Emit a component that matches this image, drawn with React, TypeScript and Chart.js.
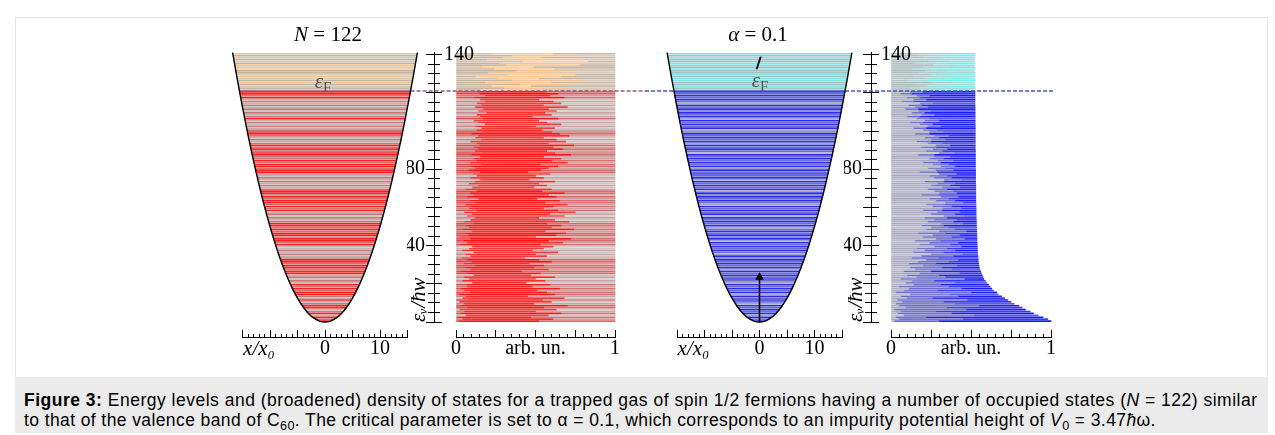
import React, { useEffect, useRef } from "react";
import { Chart, registerables } from "chart.js";

Chart.register(...registerables);

// ======================= DATA =======================
// single-particle energy levels (units of hbar*omega)
const LEVELS = [
  0.5, 1.5, 2.5, 3.5, 4.5, 5.5, 6.5, 7.5, 8.5, 9.5,
  10.5, 11.5, 12.5, 13.5, 14.5, 15.5, 16.5, 17.5, 18.5, 19.5,
  20.5, 21.5, 22.5, 23.5, 24.5, 25.5, 26.5, 27.5, 28.5, 29.5,
  30.5, 31.5, 32.5, 33.5, 34.5, 35.5, 36.5, 37.5, 38.5, 39.5,
  40.5, 41.5, 42.5, 43.5, 44.5, 45.5, 46.5, 47.5, 48.5, 49.5,
  50.5, 51.5, 52.5, 53.5, 54.5, 55.5, 56.5, 57.5, 58.5, 59.5,
  60.5, 61.5, 62.5, 63.5, 64.5, 65.5, 66.5, 67.5, 68.5, 69.5,
  70.5, 71.5, 72.5, 73.5, 74.5, 75.5, 76.5, 77.5, 78.5, 79.5,
  80.5, 81.5, 82.5, 83.5, 84.5, 85.5, 86.5, 87.5, 88.5, 89.5,
  90.5, 91.5, 92.5, 93.5, 94.5, 95.5, 96.5, 97.5, 98.5, 99.5,
  100.5, 101.5, 102.5, 103.5, 104.5, 105.5, 106.5, 107.5, 108.5, 109.5,
  110.5, 111.5, 112.5, 113.5, 114.5, 115.5, 116.5, 117.5, 118.5, 119.5,
  120.5,
  121.5, 122.5, 123.5, 124.5, 125.5, 126.5, 127.5, 128.5, 129.5, 130.5,
  131.5, 132.5, 133.5, 134.5, 135.5, 136.5, 137.5, 138.5, 139.5, 140.5,
];
const FERMI_E = 121;

// trapping potential (x / x0 , energy)
const POT_X = [-16.8, -16, -15, -14, -13, -12, -11, -10, -9, -8, -7, -6, -5, -4, -3, -2, -1, 0,
  1, 2, 3, 4, 5, 6, 7, 8, 9, 10, 11, 12, 13, 14, 15, 16, 16.8];
const POT_E = [141.1, 128, 112.5, 98, 84.5, 72, 60.5, 50, 40.5, 32, 24.5, 18, 12.5, 8, 4.5, 2, 0.5, 0,
  0.5, 2, 4.5, 8, 12.5, 18, 24.5, 32, 40.5, 50, 60.5, 72, 84.5, 98, 112.5, 128, 141.1];

// impurity arrow
const ARROW_X = [0, 0];
const ARROW_E = [0, 23.5];

// Fermi level marks (x / x0 units)
const FERMI_L_SOLID = [-15.56, 15.56];
const FERMI_L_DASH = [15.56, 58.3];
const FERMI_R_DASH_A = [-20.8, -15.56];
const FERMI_R_SOLID = [-15.56, 15.56];
const FERMI_R_DASH_B = [15.56, 53.7];

// level colour classes
const LEFT_CODES =
  "rprgrpgrrp" + "grgprrprpr" + "gpgpgrrprr" + "prrpgpgpgg" + "rprrprrprp" +
  "rrpgpgpgrp" + "rprrprprrp" + "gpgpgpgprr" + "prrprpprrp" + "rprpgpgprr" +
  "pgpgpgrpgp" + "gpgpgpgrpr" + "r" + "otwtotwowt" + "towotwtotw";
const RIGHT_CODES =
  "bsbhbsbsbh" + "sbsbhbsbsb" + "hsbsbsbhbs" + "bsbsbhsbsb" + "sbhbsbsbsh" +
  "bsbsbhbsbs" + "bhsbsbsbhb" + "sbsbhbsbsb" + "hbsbsbsbhs" + "bsbhbsbsbs" +
  "hbsbsbhbsb" + "sbsbhsbsbs" + "b" + "ckckkcckck" + "kckcckkckc";

// broadened DOS, left panel: start / end of the saturated part of each row
const DOS_L_A = [
  0.02, 0.04, 0.01, 0.06, 0.03, 0.05, 0.02, 0.07, 0.03, 0.05,
  0.02, 0.08, 0.04, 0.06, 0.02, 0.09, 0.05, 0.03, 0.07, 0.06,
  0.10, 0.04, 0.08, 0.05, 0.11, 0.07, 0.03, 0.09, 0.06, 0.12,
  0.05, 0.10, 0.07, 0.04, 0.09, 0.06, 0.11, 0.04, 0.08, 0.10,
  0.03, 0.07, 0.05, 0.09, 0.02, 0.08, 0.06, 0.10, 0.04, 0.08,
  0.06, 0.11, 0.05, 0.09, 0.12, 0.07, 0.10, 0.05, 0.13, 0.08,
  0.10, 0.06, 0.12, 0.09, 0.14, 0.07, 0.11, 0.09, 0.13, 0.06,
  0.10, 0.14, 0.08, 0.12, 0.15, 0.09, 0.13, 0.11, 0.15, 0.08,
  0.12, 0.10, 0.16, 0.09, 0.13, 0.11, 0.15, 0.10, 0.17, 0.12,
  0.14, 0.11, 0.15, 0.13, 0.09, 0.16, 0.12, 0.14, 0.10, 0.17,
  0.13, 0.16, 0.12, 0.18, 0.14, 0.11, 0.17, 0.15, 0.13, 0.19,
  0.14, 0.17, 0.12, 0.16, 0.13, 0.18, 0.15, 0.12, 0.18, 0.15,
  0.14,
  0.15, 0.30, 0.22, 0.40, 0.18, 0.35, 0.26, 0.12, 0.33, 0.20,
  0.38, 0.24, 0.16, 0.31, 0.27, 0.42, 0.19, 0.29, 0.35, 0.22,
];
const DOS_L_B = [
  0.52, 0.61, 0.47, 0.58, 0.66, 0.50, 0.63, 0.55, 0.70, 0.49,
  0.60, 0.54, 0.68, 0.45, 0.62, 0.57, 0.51, 0.65, 0.48, 0.59,
  0.44, 0.56, 0.50, 0.62, 0.47, 0.53, 0.41, 0.58, 0.49, 0.55,
  0.46, 0.60, 0.52, 0.43, 0.57, 0.50, 0.64, 0.48, 0.55, 0.61,
  0.53, 0.67, 0.58, 0.72, 0.50, 0.63, 0.69, 0.56, 0.74, 0.60,
  0.66, 0.57, 0.71, 0.62, 0.52, 0.68, 0.59, 0.75, 0.64, 0.55,
  0.61, 0.70, 0.56, 0.65, 0.51, 0.63, 0.58, 0.68, 0.54, 0.60,
  0.49, 0.57, 0.52, 0.62, 0.46, 0.55, 0.50, 0.59, 0.45, 0.53,
  0.58, 0.64, 0.53, 0.70, 0.60, 0.66, 0.55, 0.72, 0.62, 0.57,
  0.67, 0.61, 0.74, 0.58, 0.69, 0.63, 0.55, 0.71, 0.65, 0.60,
  0.54, 0.62, 0.50, 0.66, 0.57, 0.52, 0.64, 0.48, 0.60, 0.56,
  0.63, 0.58, 0.70, 0.55, 0.66, 0.61, 0.52, 0.68, 0.59, 0.64,
  0.57,
  0.55, 0.68, 0.47, 0.72, 0.60, 0.80, 0.52, 0.66, 0.75, 0.58,
  0.70, 0.62, 0.49, 0.78, 0.57, 0.83, 0.64, 0.54, 0.76, 0.61,
];

// broadened DOS, right panel: grey part end, slate part end, row length
const DOS_R_G1 = [
  0.02, 0.05, 0.03, 0.08, 0.04, 0.06, 0.02, 0.09, 0.05, 0.03,
  0.07, 0.04, 0.10, 0.06, 0.12, 0.03, 0.08, 0.11, 0.05, 0.14,
  0.09, 0.13, 0.06, 0.16, 0.10, 0.18, 0.08, 0.15, 0.12, 0.20,
  0.11, 0.17, 0.22, 0.13, 0.19, 0.25, 0.14, 0.21, 0.16, 0.27,
  0.18, 0.24, 0.15, 0.28, 0.20, 0.26, 0.17, 0.30, 0.22, 0.25,
  0.19, 0.31, 0.23, 0.27, 0.21, 0.33, 0.25, 0.29, 0.20, 0.32,
  0.26, 0.22, 0.34, 0.28, 0.24, 0.31, 0.19, 0.30, 0.27, 0.23,
  0.32, 0.25, 0.29, 0.21, 0.33, 0.27, 0.24, 0.30, 0.18, 0.28,
  0.23, 0.31, 0.26, 0.20, 0.29, 0.24, 0.27, 0.17, 0.30, 0.22,
  0.26, 0.19, 0.28, 0.23, 0.16, 0.25, 0.21, 0.27, 0.15, 0.24,
  0.20, 0.14, 0.23, 0.18, 0.12, 0.21, 0.16, 0.10, 0.19, 0.13,
  0.17, 0.09, 0.15, 0.11, 0.18, 0.07, 0.14, 0.10, 0.16, 0.06,
  0.12,
  0.18, 0.12, 0.22, 0.15, 0.25, 0.10, 0.20, 0.14, 0.24, 0.17,
  0.21, 0.13, 0.19, 0.26, 0.15, 0.23, 0.11, 0.20, 0.16, 0.22,
];
const DOS_R_G2 = [
  0.30, 0.45, 0.22, 0.52, 0.38, 0.28, 0.47, 0.35, 0.55, 0.40,
  0.33, 0.48, 0.26, 0.42, 0.37, 0.50, 0.29, 0.44, 0.36, 0.31,
  0.40, 0.27, 0.46, 0.34, 0.30, 0.43, 0.25, 0.38, 0.32, 0.41,
  0.28, 0.36, 0.42, 0.30, 0.39, 0.45, 0.33, 0.40, 0.35, 0.44,
  0.37, 0.42, 0.31, 0.46, 0.38, 0.43, 0.34, 0.47, 0.40, 0.36,
  0.33, 0.45, 0.39, 0.41, 0.35, 0.46, 0.40, 0.43, 0.32, 0.44,
  0.38, 0.34, 0.45, 0.40, 0.36, 0.42, 0.30, 0.41, 0.39, 0.35,
  0.43, 0.37, 0.40, 0.33, 0.44, 0.38, 0.35, 0.41, 0.29, 0.39,
  0.34, 0.40, 0.36, 0.31, 0.39, 0.33, 0.37, 0.27, 0.40, 0.32,
  0.35, 0.28, 0.37, 0.32, 0.25, 0.34, 0.30, 0.36, 0.24, 0.33,
  0.29, 0.22, 0.31, 0.26, 0.20, 0.30, 0.24, 0.18, 0.27, 0.21,
  0.25, 0.17, 0.23, 0.19, 0.26, 0.14, 0.22, 0.18, 0.24, 0.13,
  0.20,
  0.30, 0.24, 0.35, 0.27, 0.38, 0.22, 0.33, 0.26, 0.37, 0.29,
  0.34, 0.25, 0.31, 0.39, 0.28, 0.36, 0.23, 0.32, 0.29, 0.35,
];
const DOS_R_L = [
  1.00, 0.98, 0.95, 0.92, 0.89, 0.87, 0.84, 0.82, 0.80, 0.77,
  0.75, 0.73, 0.71, 0.69, 0.67, 0.66, 0.64, 0.63, 0.62, 0.61,
  0.60, 0.59, 0.58, 0.575, 0.57, 0.565, 0.56, 0.555, 0.552, 0.55,
  0.548, 0.546, 0.545, 0.544, 0.543, 0.542, 0.541, 0.54, 0.54, 0.539,
  0.539, 0.538, 0.538, 0.537, 0.537, 0.536, 0.536, 0.535, 0.535, 0.535,
  0.534, 0.534, 0.534, 0.533, 0.533, 0.533, 0.532, 0.532, 0.532, 0.532,
  0.531, 0.531, 0.531, 0.53, 0.53, 0.53, 0.53, 0.53, 0.53, 0.53,
  0.53, 0.53, 0.529, 0.529, 0.529, 0.529, 0.529, 0.529, 0.529, 0.529,
  0.528, 0.528, 0.528, 0.528, 0.528, 0.528, 0.528, 0.528, 0.528, 0.528,
  0.527, 0.527, 0.527, 0.527, 0.527, 0.527, 0.527, 0.527, 0.527, 0.527,
  0.527, 0.527, 0.527, 0.526, 0.526, 0.526, 0.526, 0.526, 0.526, 0.526,
  0.526, 0.526, 0.526, 0.525, 0.525, 0.525, 0.525, 0.525, 0.525, 0.525,
  0.525,
  0.524, 0.527, 0.522, 0.526, 0.523, 0.527, 0.521, 0.525, 0.524, 0.526,
  0.522, 0.527, 0.524, 0.521, 0.526, 0.523, 0.525, 0.522, 0.527, 0.524,
];

// tick labels
const X_LABEL_VALUES = [-12, 0, 10];
const X_LABEL_TEXT = ["x/x\u2080", "0", "10"];
const DOS_LABEL_VALUES = [0, 0.5, 1];
const DOS_LABEL_TEXT = ["0", "arb. un.", "1"];
const Y_LEFT_LABELS = [40, 80];
const Y_RIGHT_LABELS = [140];
const Y_TITLE = "\u03b5\u1d65/\u0127w";

// ======================= STYLE / LAYOUT =======================
const W = 1275, H = 376;
const Y_TOP = 52, Y_BOT = 322, E_TOP = 141.4, AXIS_E = -7.86;
const SERIF = "'Liberation Serif','DejaVu Serif',serif";
const BAR_T = 1.0;

const AREA = {
  p1: { l: 242.5, r: 407.5 }, d1: { l: 456, r: 615 },
  p2: { l: 677, r: 842 }, d2: { l: 891, r: 1051 },
  y1min: { l: 428, r: 440 }, y1maj: { l: 426, r: 442 },
  y2min: { l: 865, r: 877 }, y2maj: { l: 863, r: 879 },
};

const PAL_L = { r: "#ff1f1f", p: "#c47878", g: "#c2b3b3", o: "#f4c48a", t: "#c3b5a2", w: "#d6cabb" };
const PAL_R = { b: "#2a2af0", s: "#6e6ec8", h: "#a4a4c4", c: "#7ee6e6", k: "#a3c3c3" };
const DL1 = { r: "#e04848", p: "#c98080", g: "#c9b9b9", o: "#cbb59b", t: "#c6b6a2", w: "#d2c4b2" };
const DL2 = { r: "#ff1212", p: "#ff2a2a", g: "#f23a3a", o: "#ffc98c", t: "#f3c496", w: "#ffd09a" };
const DL3 = { r: "#d86c6c", p: "#c9a3a3", g: "#cfc6c6", o: "#c8b8a4", t: "#d9cbb8", w: "#c4b8aa" };
const DR1 = { b: "#b1b1c8", s: "#a9a9c0", h: "#bdbdcb", c: "#b4c3c3", k: "#aebfbf" };
const DR2 = { b: "#6a6ad4", s: "#7474c8", h: "#8080c4", c: "#a0dcdc", k: "#b3cccc" };
const DR3 = { b: "#1a1aff", s: "#3a3af0", h: "#5c5ce0", c: "#78f0f0", k: "#a4dada" };

const turn = (e: number) => Math.sqrt(2 * e); // classical turning point of V = x^2/2

function baseOptions(area: any, scales: any, padL = 0, padR = 0, indexY = true) {
  return {
    responsive: false,
    animation: false,
    devicePixelRatio: 1,
    events: [],
    indexAxis: indexY ? "y" : "x",
    layout: { padding: { left: area.l - padL, right: W - area.r - padR, top: Y_TOP, bottom: H - Y_BOT } },
    plugins: { legend: { display: false }, tooltip: { enabled: false }, title: { display: false } },
    scales,
  };
}

const hiddenY = () => ({
  type: "linear", display: false, min: 0, max: E_TOP, bounds: "data", offset: false, grid: { offset: false },
});

function labelFrom(values: number[], texts: string[]) {
  return (v: number) => {
    for (let i = 0; i < values.length; i++) if (Math.abs(v - values[i]) < 1e-9) return texts[i];
    return "";
  };
}

function bottomAxes(min: number, max: number, minor: number, major: number, label: any, italicAt: number | null) {
  return {
    x: {
      type: "linear", axis: "x", min, max, bounds: "data", offset: false, position: { y: AXIS_E },
      border: { display: true, color: "#000", width: 1 },
      grid: { offset: false, drawOnChartArea: false, drawTicks: true, tickLength: -4, color: "#000", lineWidth: 1 },
      ticks: {
        stepSize: minor, autoSkip: false, maxRotation: 0, minRotation: 0, padding: 3.5, color: "#000",
        font: (ctx: any) => {
          const it = italicAt !== null && ctx.tick && Math.abs(ctx.tick.value - italicAt) < 1e-9;
          return { family: SERIF, size: it ? 21 : 20, style: it ? "italic" : "normal" };
        },
        callback: (v: number) => label(v),
      },
    },
    xMaj: {
      type: "linear", axis: "x", min, max, bounds: "data", offset: false, position: { y: AXIS_E },
      border: { display: false },
      grid: { offset: false, drawOnChartArea: false, drawTicks: true, tickLength: -7, color: "#000", lineWidth: 1 },
      ticks: { stepSize: major, display: false, autoSkip: false },
    },
    y: hiddenY(),
  };
}

function lineDs(xs: number[], es: number[], color: string, width: number, dash: number[] = [], extra: any = {}) {
  return {
    type: "line", indexAxis: "y", xAxisID: "x", yAxisID: "y",
    data: xs.map((x, i) => ({ x, y: es[i] })),
    borderColor: color, borderWidth: width, borderDash: dash,
    pointRadius: 0, fill: false, clip: false, tension: 0, ...extra,
  };
}

function levelBars(codes: string, pal: any) {
  return {
    type: "bar", indexAxis: "y", xAxisID: "x", yAxisID: "y", grouped: false, clip: false,
    barThickness: BAR_T, borderWidth: 0,
    data: LEVELS.map((e) => ({ x: [-turn(e), turn(e)], y: e })),
    backgroundColor: LEVELS.map((_, i) => pal[codes[i]]),
  };
}

function segBars(from: number[] | number, to: number[] | number, codes: string, pal: any) {
  const val = (a: any, i: number) => (Array.isArray(a) ? a[i] : a);
  return {
    type: "bar", indexAxis: "y", xAxisID: "x", yAxisID: "y", grouped: false, clip: false,
    barThickness: BAR_T, borderWidth: 0,
    data: LEVELS.map((e, i) => ({ x: [val(from, i), val(to, i)], y: e })),
    backgroundColor: LEVELS.map((_, i) => pal[codes[i]]),
  };
}

function p1Config() {
  return {
    type: "bar",
    data: {
      datasets: [
        lineDs(POT_X, POT_E, "#000", 1.4, [], { tension: 0.25 }),
        lineDs(FERMI_L_DASH, [FERMI_E, FERMI_E], "#8c5a8a", 1.4, [4, 2]),
        lineDs(FERMI_L_SOLID, [FERMI_E, FERMI_E], "#8c5a8a", 1.4),
        levelBars(LEFT_CODES, PAL_L),
      ],
    },
    options: baseOptions(AREA.p1, bottomAxes(-15, 15, 1, 5, labelFrom(X_LABEL_VALUES, X_LABEL_TEXT), -12)),
  };
}

function p2Config() {
  return {
    type: "bar",
    data: {
      datasets: [
        lineDs(POT_X, POT_E, "#000", 1.4, [], { tension: 0.25 }),
        lineDs(ARROW_X, ARROW_E, "#000", 1.6, [], {
          pointRadius: [0, 5], pointStyle: "triangle", pointBackgroundColor: "#000", pointBorderColor: "#000", pointBorderWidth: 0,
        }),
        lineDs(FERMI_R_DASH_A, [FERMI_E, FERMI_E], "#3f5bb0", 1.4, [4, 2]),
        lineDs(FERMI_R_DASH_B, [FERMI_E, FERMI_E], "#3f5bb0", 1.4, [4, 2]),
        lineDs(FERMI_R_SOLID, [FERMI_E, FERMI_E], "#4a58b0", 1.4),
        levelBars(RIGHT_CODES, PAL_R),
      ],
    },
    options: baseOptions(AREA.p2, bottomAxes(-15, 15, 1, 5, labelFrom(X_LABEL_VALUES, X_LABEL_TEXT), -12)),
  };
}

function d1Config() {
  return {
    type: "bar",
    data: {
      datasets: [
        segBars(0, DOS_L_A, LEFT_CODES, DL1),
        segBars(DOS_L_A, DOS_L_B, LEFT_CODES, DL2),
        segBars(DOS_L_B, 1, LEFT_CODES, DL3),
      ],
    },
    options: baseOptions(AREA.d1, bottomAxes(0, 1, 0.05, 0.25, labelFrom(DOS_LABEL_VALUES, DOS_LABEL_TEXT), null)),
  };
}

function d2Config() {
  return {
    type: "bar",
    data: {
      datasets: [
        segBars(0, DOS_R_G1, RIGHT_CODES, DR1),
        segBars(DOS_R_G1, DOS_R_G2, RIGHT_CODES, DR2),
        segBars(DOS_R_G2, DOS_R_L, RIGHT_CODES, DR3),
      ],
    },
    options: baseOptions(AREA.d2, bottomAxes(0, 1, 0.05, 0.25, labelFrom(DOS_LABEL_VALUES, DOS_LABEL_TEXT), null)),
  };
}

const keepMultiples = (step: number) => (s: any) => {
  s.ticks = s.ticks.filter((t: any) => Math.abs(t.value / step - Math.round(t.value / step)) < 1e-6);
};

function yMinorConfig(area: any) {
  const AW = 21;
  return {
    type: "scatter",
    data: { datasets: [] },
    options: baseOptions(area, {
      x: {
        type: "linear", axis: "x", min: -1, max: 1, bounds: "data", offset: false, position: { y: 0 },
        border: { display: false },
        grid: { drawOnChartArea: true, drawTicks: false, color: "#000", lineWidth: 1 },
        ticks: { display: false },
        afterBuildTicks: (s: any) => { s.ticks = [{ value: 0 }]; },
      },
      y: {
        type: "linear", position: "left", min: 0, max: E_TOP, bounds: "data", offset: false,
        border: { display: false },
        grid: { drawOnChartArea: true, drawTicks: false, color: "#000", lineWidth: 1 },
        ticks: {
          stepSize: 5, includeBounds: false, autoSkip: false, padding: 3, color: "#000",
          font: { family: SERIF, size: 20 },
          callback: (v: number) => (Y_LEFT_LABELS.indexOf(v) >= 0 ? String(v) : ""),
        },
        title: { display: true, text: Y_TITLE, align: "start", padding: 0, color: "#000", font: { family: SERIF, size: 21, style: "italic" } },
        afterBuildTicks: keepMultiples(5),
        afterFit: (s: any) => { s.width = AW; },
      },
    }, AW, 0, false),
  };
}

function yMajorConfig(area: any) {
  const AW = 34;
  return {
    type: "scatter",
    data: { datasets: [] },
    options: baseOptions(area, {
      x: { type: "linear", display: false, min: -1, max: 1 },
      y: {
        type: "linear", position: "right", min: 0, max: E_TOP, bounds: "data", offset: false,
        border: { display: false },
        grid: { drawOnChartArea: true, drawTicks: false, color: "#000", lineWidth: 1 },
        ticks: {
          stepSize: 20, includeBounds: false, autoSkip: false, padding: 2, color: "#000",
          font: { family: SERIF, size: 20 },
          callback: (v: number) => (Y_RIGHT_LABELS.indexOf(v) >= 0 ? String(v) : ""),
        },
        afterBuildTicks: keepMultiples(20),
        afterFit: (s: any) => { s.width = AW; },
      },
    }, 0, AW, false),
  };
}

const txt: any = {
  position: "absolute", transform: "translate(-50%,-50%)", fontFamily: SERIF, fontSize: 21,
  whiteSpace: "nowrap", lineHeight: 1, color: "#000",
};
const subS: any = { fontSize: "0.72em", lineHeight: 0, verticalAlign: "-0.28em" };

export default function App() {
  const canvases = useRef<(HTMLCanvasElement | null)[]>([]);
  useEffect(() => {
    const cfgs = [
      d1Config(), d2Config(),
      yMinorConfig(AREA.y1min), yMajorConfig(AREA.y1maj),
      yMinorConfig(AREA.y2min), yMajorConfig(AREA.y2maj),
      p1Config(), p2Config(),
    ];
    const charts = cfgs.map((c, i) => new Chart(canvases.current[i] as HTMLCanvasElement, c as any));
    return () => charts.forEach((c) => c.destroy());
  }, []);

  return (
    <div style={{ position: "absolute", left: 0, top: 0, width: 1275, height: 435, background: "#fff", overflow: "hidden" }}>
      <div style={{ position: "absolute", left: 15, top: 17, width: 1253, height: 416, border: "1px solid #e4e4e4", boxSizing: "border-box" }} />
      {Array.from({ length: 8 }).map((_, i) => (
        <canvas
          key={i}
          ref={(el) => { canvases.current[i] = el; }}
          width={W}
          height={H}
          style={{ position: "absolute", left: 0, top: 0, width: W, height: H }}
        />
      ))}
      <div style={{ ...txt, left: 328, top: 34 }}><i>N</i> = 122</div>
      <div style={{ ...txt, left: 758, top: 34 }}><i>α</i> = 0.1</div>
      <div style={{ ...txt, left: 323, top: 81, color: "#555" }}>
        <i>ε</i><span style={subS}>F</span>
      </div>
      <div style={{ ...txt, left: 760, top: 80, color: "#555" }}>
        <span style={{ position: "relative", display: "inline-block" }}>
          <i>ε</i><span style={subS}>F</span>
          <span
            style={{
              position: "absolute", left: 6, top: -13, width: 2, height: 13, background: "#111",
              transform: "skewX(-18deg)", borderRadius: 1,
            }}
          />
        </span>
      </div>
      <div
        style={{
          position: "absolute", left: 15, top: 377, width: 1253, height: 56, background: "#ebebeb",
          fontFamily: "'Liberation Sans', Arial, sans-serif", fontSize: 17.5,
          lineHeight: "20px", color: "#000", padding: "13px 0 0 9px", boxSizing: "border-box", whiteSpace: "nowrap",
        }}
      >
        <div style={{ letterSpacing: "0.5px" }}>
          <b>Figure 3:</b> Energy levels and (broadened) density of states for a trapped gas of spin 1/2 fermions having a number of occupied states (<i>N</i> = 122) similar
        </div>
        <div style={{ letterSpacing: "0.4px" }}>
          to that of the valence band of C<span style={subS}>60</span>. The critical parameter is set to α = 0.1, which corresponds to an impurity potential height of <i>V</i><span style={subS}>0</span> = 3.47<i>ħ</i>ω.
        </div>
      </div>
    </div>
  );
}
